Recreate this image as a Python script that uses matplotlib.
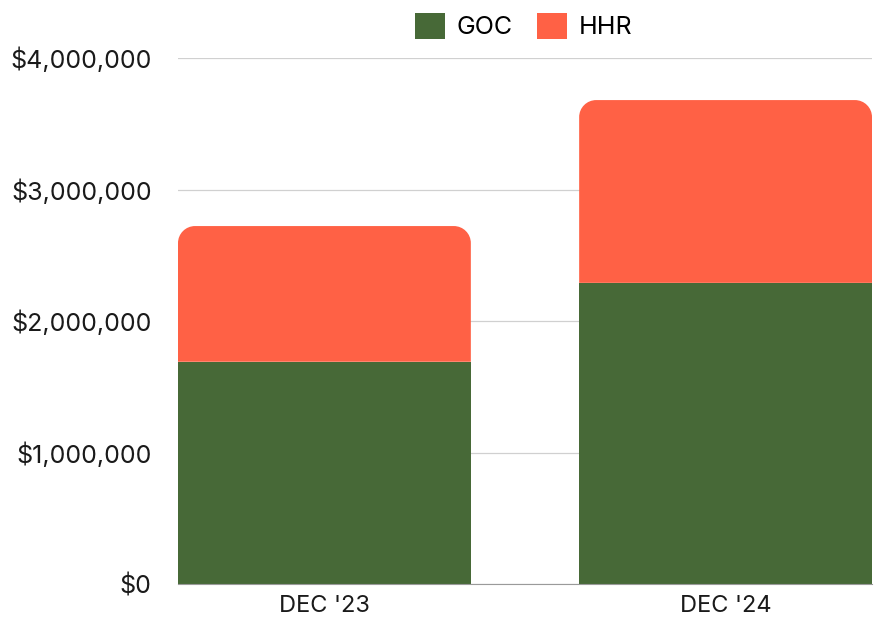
import matplotlib
matplotlib.use("Agg")
import matplotlib.pyplot as plt
from matplotlib.path import Path
from matplotlib.patches import PathPatch, Patch
from matplotlib.ticker import FuncFormatter

categories = ["DEC '23", "DEC '24"]
goc = [1690000, 2290000]
hhr = [1032000, 1390000]

GREEN = "#476937"
ORANGE = "#ff6145"

plt.rcParams['font.family'] = ['Inter', 'DejaVu Sans']

fig = plt.figure(figsize=(8.77, 6.21), dpi=100)
ax = fig.add_axes([178 / 877, (621 - 584) / 621, 694 / 877, 526 / 621])

width = 0.73
x = list(range(len(categories)))
ax.bar(x, goc, width=width, color=GREEN, zorder=2)

ax.set_xlim(-0.365, 1.365)
ax.set_ylim(0, 4000000)


def rounded_top_bar(ax, xc, bottom, height, w, r_px, color):
    # rounded top corners, radius given in pixels
    inv = ax.transData.inverted()
    p0 = inv.transform((0, 0))
    p1 = inv.transform((r_px, r_px))
    rx, ry = p1[0] - p0[0], p1[1] - p0[1]
    x0, x1 = xc - w / 2, xc + w / 2
    y0, y1 = bottom, bottom + height
    k = 0.5523
    verts = [
        (x0, y0), (x0, y1 - ry),
        (x0, y1 - ry + k * ry), (x0 + rx - k * rx, y1), (x0 + rx, y1),
        (x1 - rx, y1),
        (x1 - rx + k * rx, y1), (x1, y1 - ry + k * ry), (x1, y1 - ry),
        (x1, y0), (x0, y0),
    ]
    codes = [Path.MOVETO, Path.LINETO,
             Path.CURVE4, Path.CURVE4, Path.CURVE4,
             Path.LINETO,
             Path.CURVE4, Path.CURVE4, Path.CURVE4,
             Path.LINETO, Path.CLOSEPOLY]
    ax.add_patch(PathPatch(Path(verts, codes), facecolor=color,
                           edgecolor='none', zorder=2))


for xi, b, h in zip(x, goc, hhr):
    rounded_top_bar(ax, xi, b, h, width, 17, ORANGE)

ax.set_yticks([0, 1000000, 2000000, 3000000, 4000000])
ax.yaxis.set_major_formatter(FuncFormatter(lambda v, p: "${:,.0f}".format(v)))
ax.set_xticks(x)
ax.set_xticklabels(categories)
ax.tick_params(axis='y', length=0, labelsize=18, pad=19, labelcolor='#1a1a1a')
ax.tick_params(axis='x', length=0, labelsize=17, pad=8, labelcolor='#1a1a1a')
ax.grid(axis='y', color='#d0d0d0', linewidth=0.9, zorder=0)
ax.set_axisbelow(True)
for s in ['top', 'right', 'left']:
    ax.spines[s].set_visible(False)
ax.spines['bottom'].set_color('#9a9a9a')
ax.spines['bottom'].set_zorder(3)

handles = [Patch(facecolor=GREEN, label='GOC'), Patch(facecolor=ORANGE, label='HHR')]
fig.legend(handles=handles, loc='upper center', bbox_to_anchor=(0.597, 1.015),
           ncol=2, frameon=False, fontsize=18, handlelength=1.2, handleheight=1.2,
           columnspacing=1.0, handletextpad=0.45)

fig.savefig("out.png", dpi=100)
